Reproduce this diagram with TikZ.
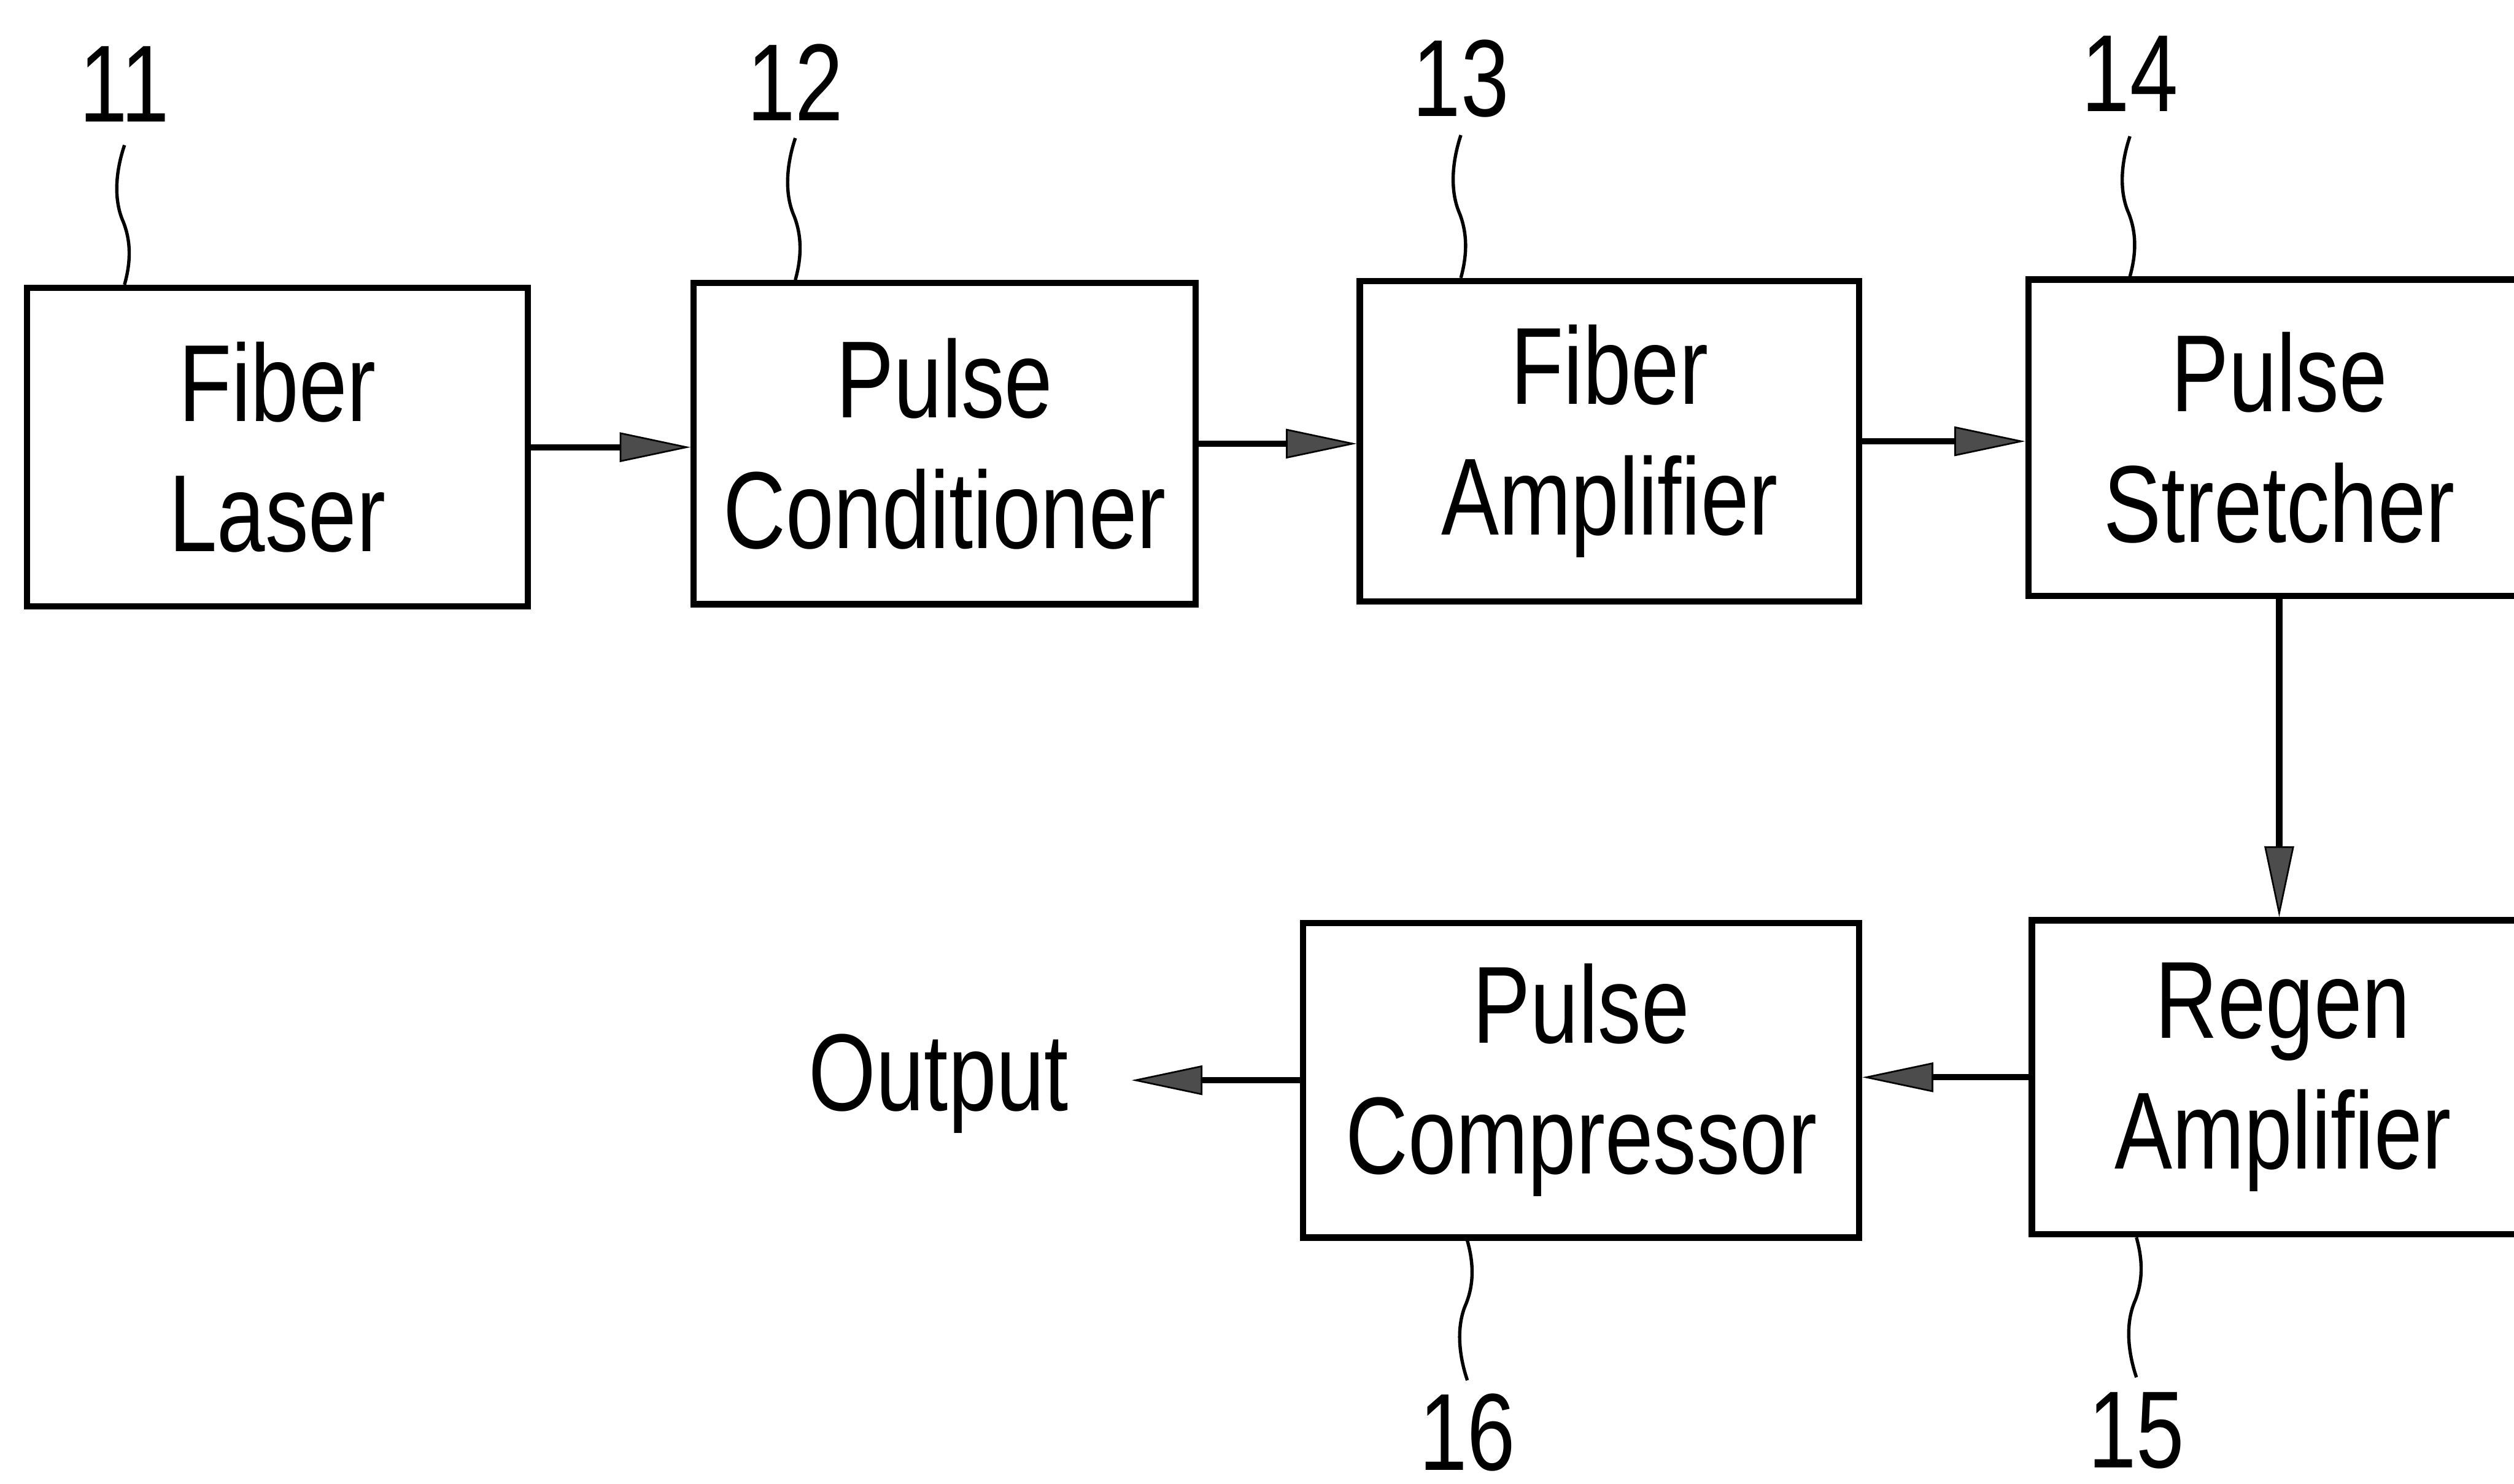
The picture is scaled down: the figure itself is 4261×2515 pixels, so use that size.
\documentclass[tikz,border=0pt]{standalone}
\usepackage{fontspec}
\setmainfont{Liberation Sans}[FakeStretch=0.79]
\usetikzlibrary{arrows.meta,calc}
\newcommand\bigfont{\fontsize{52.8}{62.9}\selectfont}
\newcommand\leadline[2]{\draw[lead] (#1) .. controls ($(#1)!0.2!(#2)+(-16,0)$) and ($(#1)!0.4!(#2)+(-18,0)$) .. ($(#1)!0.55!(#2)+(-2,0)$) .. controls ($(#1)!0.7!(#2)+(12,0)$) and ($(#1)!0.85!(#2)+(10,0)$) .. (#2);}
\begin{document}
\begin{tikzpicture}[x=0.01cm,y=-0.01cm,
  box/.style={draw, line width=3pt, align=center, inner sep=0pt, font=\bigfont},
  arr/.style={line width=3pt, -{Triangle[length=1.2cm,width=0.5cm,line width=0.8pt,fill=black!70]}},
  lead/.style={line width=1.6pt},
  num/.style={inner sep=0pt, font=\bigfont}]
\useasboundingbox (0,0) rectangle (4261,2515);
% boxes
\node[box, minimum width=8.48cm, minimum height=5.4cm] (FL) at (470,758) {Fiber\\Laser};
\node[box, minimum width=8.5cm, minimum height=5.44cm] (PC) at (1601,752) {Pulse\\Conditioner};
\node[box, minimum width=8.46cm, minimum height=5.43cm] (FA) at (2728,748) {Fiber\\Amplifier};
\node[box, minimum width=8.5cm, minimum height=5.36cm] (PS) at (3863,742) {Pulse\\Stretcher};
\node[box, minimum width=8.5cm, minimum height=5.32cm] (RA) at (3869,1826) {Regen\\Amplifier};
\node[box, minimum width=9.42cm, minimum height=5.33cm] (PCo) at (2680,1831) {Pulse\\Compressor};
\node[num, anchor=base] (Out) at (1591,1882) {Output};
\coordinate (outtip) at (1918,1831);
% labels
\node[num, anchor=base] (l11) at (211,207) {11};
\node[num, anchor=base] (l12) at (1348,204) {12};
\node[num, anchor=base] (l13) at (2476,197) {13};
\node[num, anchor=base] (l14) at (3610,189) {14};
\node[num, anchor=base] (l15) at (3621,2488) {15};
\node[num, anchor=base] (l16) at (2487,2492) {16};
% leader ends
\path ([yshift=-0.39cm]l11.base) coordinate (s11) (l11.base |- FL.north) coordinate (e11);
\path ([yshift=-0.30cm]l12.base) coordinate (s12) (l12.base |- PC.north) coordinate (e12);
\path ([yshift=-0.32cm]l13.base) coordinate (s13) (l13.base |- FA.north) coordinate (e13);
\path ([yshift=-0.42cm]l14.base) coordinate (s14) (l14.base |- PS.north) coordinate (e14);
\path ([yshift=0.25cm]l15.north) coordinate (s15) (l15.north |- RA.south) coordinate (e15);
\path ([yshift=0.22cm]l16.north) coordinate (s16) (l16.north |- PCo.south) coordinate (e16);
\leadline{s11}{e11}
\leadline{s12}{e12}
\leadline{s13}{e13}
\leadline{s14}{e14}
\leadline{s15}{e15}
\leadline{s16}{e16}
% arrows
\draw[arr] (FL.east) -- (FL.east -| PC.west);
\draw[arr] (PC.east) -- (PC.east -| FA.west);
\draw[arr] (FA.east) -- (FA.east -| PS.west);
\draw[arr] (PS.south) -- (PS.south |- RA.north);
\draw[arr] (RA.west) -- (RA.west -| PCo.east);
\draw[arr] (PCo.west) -- (outtip);
\end{tikzpicture}
\end{document}
